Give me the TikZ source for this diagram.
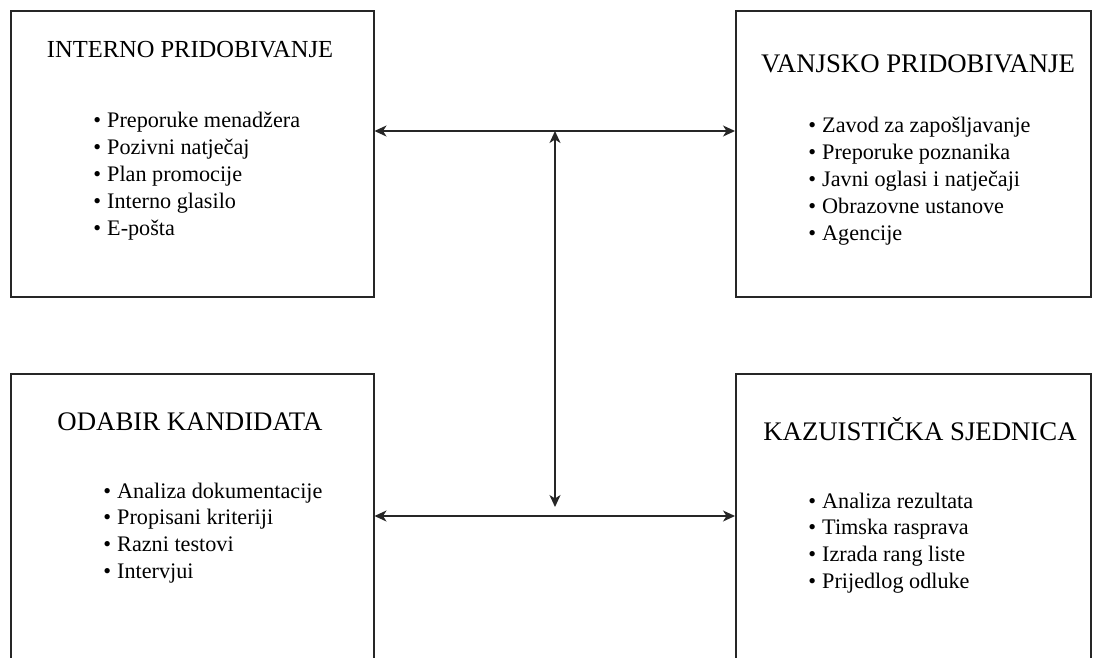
\documentclass[tikz,border=0pt]{standalone}
\usepackage{fontspec}
\setmainfont{Liberation Serif}
\usetikzlibrary{arrows.meta}
\newcommand\mybullet{\llap{\textbullet\hspace{6pt}}}
\begin{document}
\begin{tikzpicture}[x=1pt,y=-1pt,
  box/.style={draw=black!85,line width=1.5pt,rectangle,inner sep=0pt,anchor=north west},
  ttl/.style={inner sep=0pt,anchor=base,font=\fontsize{26.8}{28}\selectfont},
  itm/.style={inner sep=0pt,anchor=base west,font=\fontsize{22.2}{26}\selectfont},
  conn/.style={draw=black!85,line width=1.5pt,{Stealth[length=12pt,width=11pt,inset=3.5pt]}-{Stealth[length=12pt,width=11pt,inset=3.5pt]}}
]
\useasboundingbox (0,0) rectangle (1093,657);
\clip (0,0) rectangle (1093,657);
\fill[white] (0,0) rectangle (1093,657);

% boxes
\node[box,minimum width=363pt,minimum height=286pt] (tl) at (10,10) {};
\node[box,minimum width=355pt,minimum height=286pt] (tr) at (735,10) {};
\node[box,minimum width=363pt,minimum height=330pt] (bl) at (10,373) {};
\node[box,minimum width=355pt,minimum height=330pt] (br) at (735,373) {};

% titles
\node[ttl,font=\fontsize{24.5}{26}\selectfont] (tlt) at (190,57) {INTERNO PRIDOBIVANJE};
\node[ttl] (trt) at (918,72) {VANJSKO PRIDOBIVANJE};
\node[ttl] (blt) at (190,430) {ODABIR KANDIDATA};
\node[ttl] (brt) at (920,440) {KAZUISTIČKA SJEDNICA};

% items
\foreach \t [count=\i] in {Preporuke menadžera, Pozivni natječaj, Plan promocije, Interno glasilo, E-pošta}
  \node[itm] (tli\i) at (107,{127+27*(\i-1)}) {\mybullet\t};
\foreach \t [count=\i] in {Zavod za zapošljavanje, Preporuke poznanika, Javni oglasi i natječaji, Obrazovne ustanove, Agencije}
  \node[itm] (tri\i) at (822,{132+27*(\i-1)}) {\mybullet\t};
\foreach \t [count=\i] in {Analiza dokumentacije, Propisani kriteriji, Razni testovi, Intervjui}
  \node[itm] (bli\i) at (117,{498+26.7*(\i-1)}) {\mybullet\t};
\foreach \t [count=\i] in {Analiza rezultata, Timska rasprava, Izrada rang liste, Prijedlog odluke}
  \node[itm] (bri\i) at (822,{508+26.7*(\i-1)}) {\mybullet\t};

% connectors
\coordinate (h1a) at (tl.east |- 0,131);
\coordinate (h1b) at (tr.west |- 0,131);
\coordinate (h2a) at (bl.east |- 0,516);
\coordinate (h2b) at (br.west |- 0,516);
\coordinate (v1) at (555,131);
\coordinate (v2) at (555,507);
\draw[conn] (h1a) -- (h1b);
\draw[conn] (h2a) -- (h2b);
\draw[conn] (v1) -- (v2);
\end{tikzpicture}
\end{document}
